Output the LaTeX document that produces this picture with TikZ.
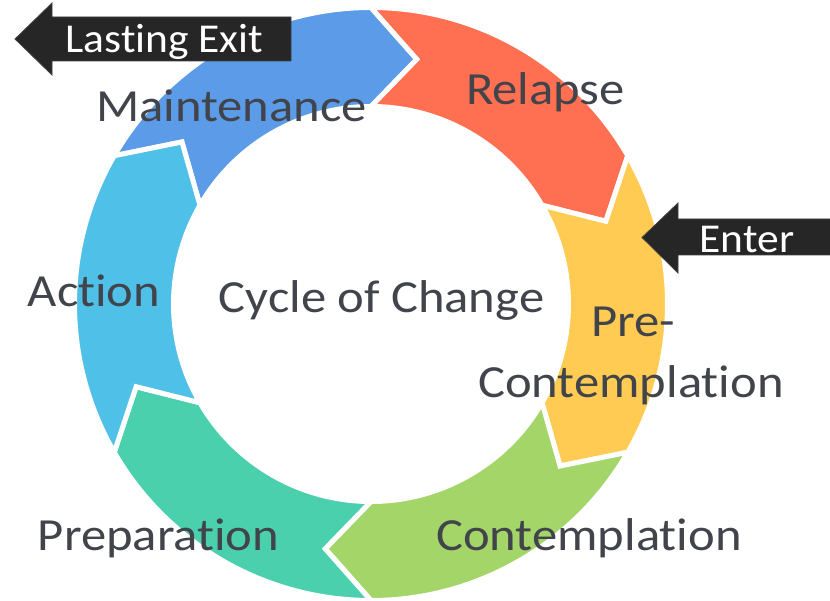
\documentclass[tikz,border=0pt]{standalone}
\usepackage{fontspec}
\setmainfont{Carlito}[Ligatures=NoCommon]
\newfontfamily\lblfont{Carlito}[Ligatures=NoCommon, FakeStretch=1.1]
\newfontfamily\tagfont{Carlito}[Ligatures=NoCommon, FakeStretch=1.06]
\definecolor{cMaint}{HTML}{5C9BE8}
\definecolor{cRel}{HTML}{FF6F51}
\definecolor{cPre}{HTML}{FFCB52}
\definecolor{cCon}{HTML}{A3D569}
\definecolor{cPrep}{HTML}{4BD0AE}
\definecolor{cAct}{HTML}{4FC0E8}
\definecolor{txt}{HTML}{41444A}
\definecolor{blk}{HTML}{262626}
\begin{document}
\begin{tikzpicture}[x=1pt,y=1pt,
  seg/.style={fill=#1, draw=white, line width=5pt},
  lbl/.style={text=txt, font=\lblfont\fontsize{46}{56}\selectfont, inner sep=0pt, anchor=base},
  tag/.style={text=white, font=\tagfont\fontsize{41}{50}\selectfont, inner sep=0pt, anchor=base},
  blkarrow/.style={fill=blk, draw=black!75, line width=0.8pt}]
\useasboundingbox (0,0) rectangle (830,600);
\fill[white] (0,0) rectangle (830,600);
\begin{scope}[shift={(371,296)}]
\foreach \t/\h/\c in {150/90/cMaint, 90/30/cRel, 30/-30/cPre, -30/-90/cCon, -90/-150/cPrep, 210/150/cAct}{
  \path[seg=\c] (\t:296.5) arc[start angle=\t, end angle=\h, radius=296.5]
    -- ({\h-10.6}:249) -- (\h:197.5)
    arc[start angle=\h, end angle=\t, radius=197.5]
    -- ({\t-10.6}:249) -- cycle;
}
\end{scope}
\node[lbl] (maint) at (231.5,478) {Maintenance};
\node[lbl] (relapse) at (545.5,495) {Relapse};
\node[lbl] (action) at (94,293) {Action};
\node[lbl] (cycle) at (381.5,287) {Cycle of Change};
\node[lbl] (pre1) at (633,263) {Pre-};
\node[lbl] (pre2) at (631,202) {Contemplation};
\node[lbl] (contemp) at (589,50) {Contemplation};
\node[lbl] (prep) at (158.5,50) {Preparation};
\path[blkarrow] (291,583) -- (52,583) -- (52,597) -- (15,561) -- (52,525) -- (52,539) -- (291,539) -- cycle;
\node[tag] (exit) at (164.5,547) {Lasting Exit};
\path[blkarrow] (832,381) -- (678,381) -- (678,397) -- (642,362.5) -- (678,327) -- (678,345) -- (832,345) -- cycle;
\node[tag] (enter) at (747,347) {Enter};
\end{tikzpicture}
\end{document}
